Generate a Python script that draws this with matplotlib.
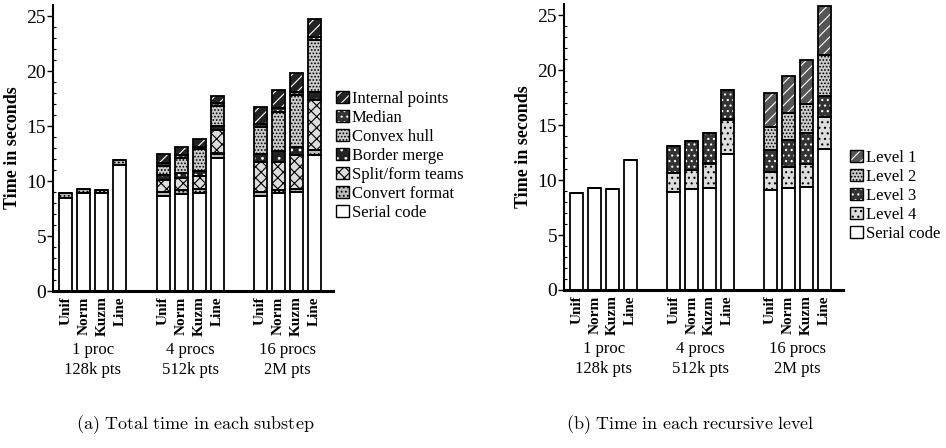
import matplotlib
matplotlib.use("Agg")
import matplotlib.pyplot as plt
from matplotlib.patches import Patch
import numpy as np

plt.rcParams['font.family'] = ['Liberation Serif', 'DejaVu Serif']
plt.rcParams['mathtext.fontset'] = 'cm'
plt.rcParams['hatch.linewidth'] = 0.8

categories = ['Unif', 'Norm', 'Kuzm', 'Line']
groups = ['1 proc\n128k pts', '4 procs\n512k pts', '16 procs\n2M pts']

# (a) Total time in each substep
serial = [8.5, 8.9, 8.9, 11.5, 8.6, 8.8, 8.9, 12.1, 8.6, 8.9, 9.0, 12.4]
convert = [0.4, 0.4, 0.3, 0.4, 0.4, 0.4, 0.4, 0.4, 0.4, 0.3, 0.3, 0.4]
split = [0, 0, 0, 0, 1.1, 1.05, 1.15, 2.1, 2.75, 2.55, 3.1, 4.6]
border = [0, 0, 0, 0, 0.45, 0.45, 0.45, 0.4, 0.7, 0.95, 0.7, 0.7]
convex = [0, 0, 0, 0, 0.85, 1.4, 2.0, 1.8, 2.45, 3.6, 4.7, 4.7]
median = [0, 0, 0, 0, 0.2, 0.25, 0.2, 0.25, 0.3, 0.3, 0.3, 0.3]
internal = [0, 0, 0, 0, 0.9, 0.75, 0.7, 0.65, 1.5, 1.7, 1.7, 1.6]

# (b) Time in each recursive level
r_serial = [8.85, 9.25, 9.2, 11.8, 8.95, 9.2, 9.3, 12.4, 9.1, 9.25, 9.4, 12.8]
level4 = [0, 0, 0, 0, 1.7, 1.75, 2.2, 3.1, 1.65, 1.95, 2.05, 2.95]
level3 = [0, 0, 0, 0, 2.45, 2.6, 2.8, 2.7, 1.95, 2.4, 2.8, 1.85]
level2 = [0, 0, 0, 0, 0, 0, 0, 0, 2.15, 2.5, 2.65, 3.8]
level1 = [0, 0, 0, 0, 0, 0, 0, 0, 3.05, 3.35, 4.0, 4.4]

# styles: (facecolor, hatchcolor, hatch)
styles_a = [
    ('Serial code', serial, ('white', 'white', None)),
    ('Convert format', convert, ('#bbbbbb', 'black', '....')),
    ('Split/form teams', split, ('#dddddd', 'black', 'xxx')),
    ('Border merge', border, ('#222222', 'white', '..')),
    ('Convex hull', convex, ('#cccccc', 'black', '.....')),
    ('Median', median, ('#333333', 'white', '...')),
    ('Internal points', internal, ('#222222', 'white', '///')),
]
styles_b = [
    ('Serial code', r_serial, ('white', 'white', None)),
    ('Level 4', level4, ('#dddddd', 'black', '...')),
    ('Level 3', level3, ('#333333', 'white', '...')),
    ('Level 2', level2, ('#cccccc', 'black', '.....')),
    ('Level 1', level1, ('#555555', 'white', '///')),
]

fig = plt.figure(figsize=(9.46, 4.48), dpi=100)
axA = fig.add_axes([53 / 946, 157 / 448, 280 / 946, 286 / 448])
axB = fig.add_axes([564 / 946, 158 / 448, 279 / 946, 286 / 448])

pos = np.array([g * 5.4 + i for g in range(3) for i in range(4)], dtype=float)
width = 0.72


def draw(ax, styles):
    bottom = np.zeros(len(pos))
    handles = []
    for label, vals, (fc, hc, hatch) in styles:
        vals = np.array(vals, dtype=float)
        ax.bar(pos, vals, width, bottom=bottom, facecolor=fc, edgecolor=hc,
               hatch=hatch, linewidth=0, zorder=2)
        ax.bar(pos, vals, width, bottom=bottom, fill=False, edgecolor='black',
               linewidth=1.3, zorder=3)
        bottom += vals
        h1 = Patch(facecolor=fc, edgecolor=hc, hatch=hatch, linewidth=0)
        h2 = Patch(fill=False, edgecolor='black', linewidth=1.0)
        handles.append(((h1, h2), label))
    ax.set_xlim(-0.72, 14.84)
    ax.set_ylim(0, 26)
    for s in ['top', 'right']:
        ax.spines[s].set_visible(False)
    ax.spines['left'].set_linewidth(1.5)
    ax.spines['bottom'].set_linewidth(2.2)
    ax.set_yticks([0, 5, 10, 15, 20, 25])
    ax.set_yticks(np.arange(0, 26, 1), minor=True)
    ax.tick_params(axis='y', which='major', direction='out', length=4, width=1,
                   labelsize=14, pad=1)
    ax.tick_params(axis='y', which='minor', direction='in', length=2, width=0.8)
    ax.set_xticks(pos)
    ax.set_xticklabels(categories * 3, rotation=90, fontweight='bold', fontsize=11)
    ax.tick_params(axis='x', length=0, pad=4)
    ax.set_ylabel('Time in seconds', fontweight='bold', fontsize=13, labelpad=4)
    for g, gl in enumerate(groups):
        ax.text(g * 5.4 + 1.5, -0.178, gl, transform=ax.get_xaxis_transform(),
                ha='center', va='top', fontsize=12, linespacing=1.35)
    return handles[::-1]


hA = draw(axA, styles_a)
hB = draw(axB, styles_b)

fig.legend([h for h, _ in hA], [l for _, l in hA], loc='upper left',
           bbox_to_anchor=(336 / 946, 1 - 91 / 448), frameon=False, fontsize=12,
           handlelength=0.75, handleheight=0.75, handletextpad=0.2,
           labelspacing=0.18, borderpad=0, borderaxespad=0)
fig.legend([h for h, _ in hB], [l for _, l in hB], loc='upper left',
           bbox_to_anchor=(850 / 946, 1 - 150 / 448), frameon=False, fontsize=12,
           handlelength=0.75, handleheight=0.75, handletextpad=0.2,
           labelspacing=0.18, borderpad=0, borderaxespad=0)

fig.text(195 / 946, 1 - 425 / 448, r'$\mathrm{(a)\ Total\ time\ in\ each\ substep}$',
         ha='center', va='center', fontsize=13)
fig.text(690 / 946, 1 - 425 / 448, r'$\mathrm{(b)\ Time\ in\ each\ recursive\ level}$',
         ha='center', va='center', fontsize=13)

fig.savefig('out.png', dpi=100)
